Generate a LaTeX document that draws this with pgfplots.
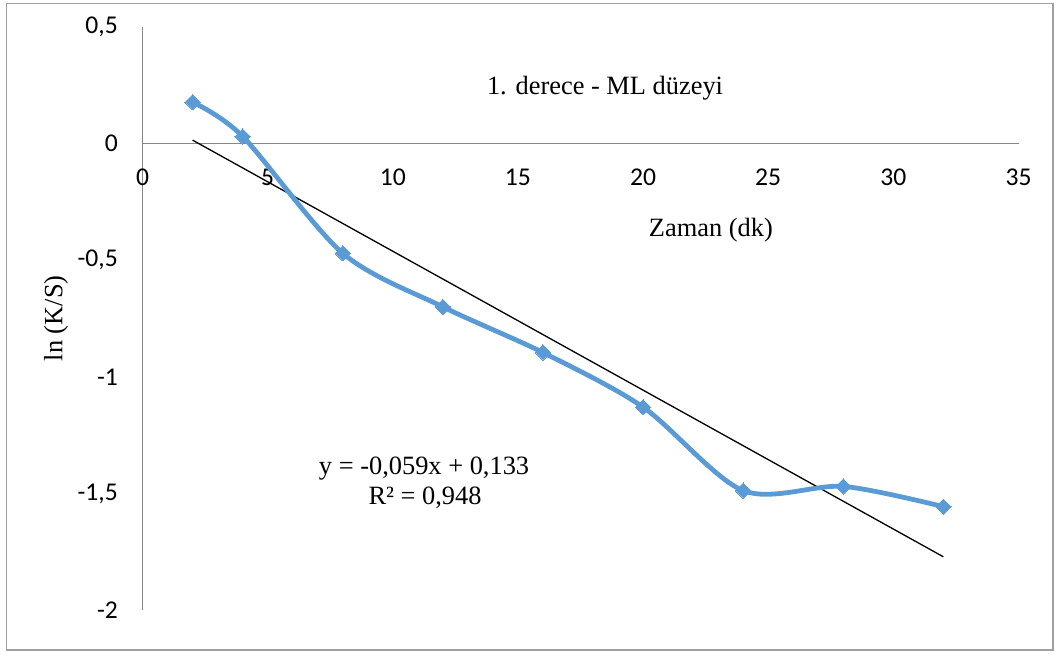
\documentclass[border=0pt]{standalone}
\usepackage{fontspec}
\setmainfont{Liberation Serif}
\newfontfamily\calibri{Carlito}
\usepackage{pgfplots}
\pgfplotsset{compat=1.18}
\definecolor{exblue}{HTML}{5B9BD5}
\definecolor{axgray}{HTML}{868686}
\definecolor{bordergray}{HTML}{A0A0A0}
\begin{document}
\begin{tikzpicture}
\useasboundingbox (-71.25pt,-22pt) rectangle (457.75pt,305pt);
\draw[bordergray, line width=0.6pt] (-68pt,-20pt) rectangle (455.25pt,303.25pt);
\begin{axis}[
  at={(0pt,0pt)}, anchor=south west,
  scale only axis, width=438pt, height=291.5pt,
  xmin=0, xmax=35, ymin=-2, ymax=0.5,
  axis lines=middle,
  axis line style={-, draw=axgray, line width=0.6pt},
  hide obscured x ticks=false, hide obscured y ticks=false,
  major tick length=0pt,
  xtick={0,5,10,15,20,25,30,35},
  xticklabels={0,5,10,15,20,25,30,35},
  ytick={-2,-1.5,-1,-0.5,0,0.5},
  yticklabels={{-2},{-1,5},{-1},{-0,5},{0},{0,5}},
  /pgf/number format/assume math mode=true,
  tick label style={font=\calibri\fontsize{12.8}{14}\selectfont, text=black},
  xticklabel style={anchor=north, yshift=-9pt},
  yticklabel style={anchor=east, xshift=-8.8pt},
  clip=false,
]
\addplot[black, line width=0.65pt] coordinates {(2,0.015) (32,-1.772)};
\addplot[exblue, line width=2.4pt, smooth, tension=0.5,
  mark=square*, mark size=2.7pt, mark options={rotate=45, fill=exblue, draw=exblue, line width=0pt}]
  coordinates {(2,0.178) (4,0.031) (8,-0.470) (12,-0.700) (16,-0.896) (20,-1.130) (24,-1.488) (28,-1.470) (32,-1.557)};
\node[font=\fontsize{13.2}{15}\selectfont] at (axis cs:18.48,0.237) {1. derece - ML düzeyi};
\node[font=\fontsize{13.2}{15}\selectfont] at (axis cs:22.71,-0.372) {Zaman (dk)};
\node[font=\fontsize{13.2}{15}\selectfont] at (axis cs:11.25,-1.392) {y = -0,059x + 0,133};
\node[font=\fontsize{13.2}{15}\selectfont] at (axis cs:11.29,-1.517) {R² = 0,948};
\node[font=\fontsize{13.2}{15}\selectfont, rotate=90] at (axis cs:-3.45,-0.749) {ln (K/S)};
\end{axis}
\end{tikzpicture}
\end{document}
